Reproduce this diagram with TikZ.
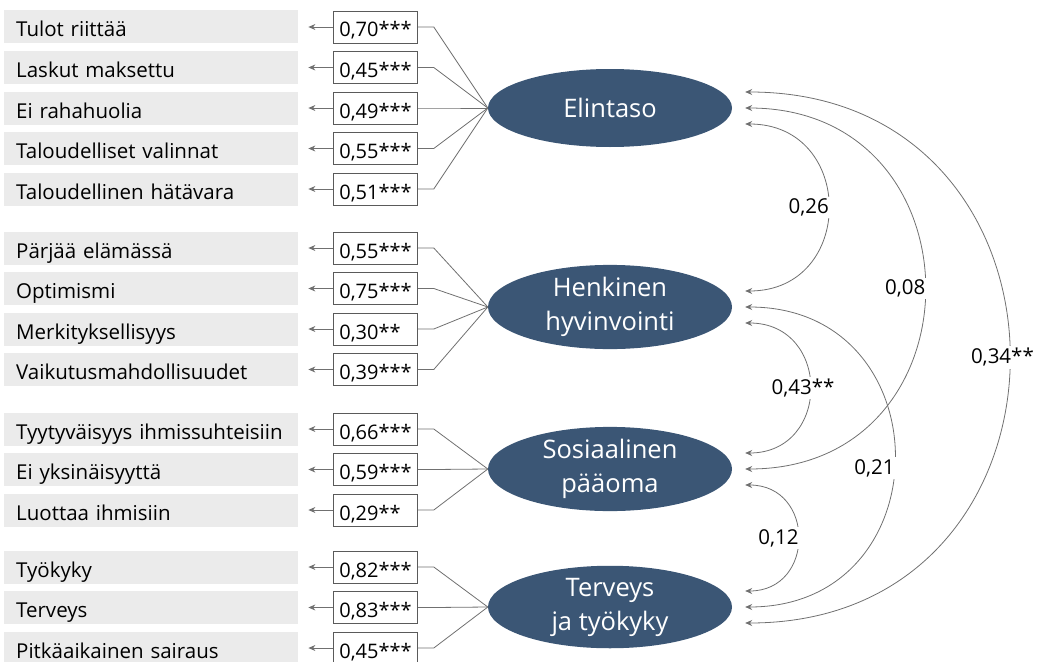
\documentclass[tikz,border=0pt]{standalone}
\usepackage{fontspec}
\setmainfont{Open Sans}
\usetikzlibrary{shapes.geometric,arrows.meta}
\definecolor{factorblue}{HTML}{3B5675}
\definecolor{itemgrey}{HTML}{EBEBEB}
\definecolor{boxgrey}{HTML}{5A5A5A}
\definecolor{linegrey}{HTML}{707070}
\begin{document}
\begin{tikzpicture}
[x=1pt,y=-1pt,
item text/.style={anchor=west,fill=itemgrey,text width=270pt,inner xsep=12pt,inner ysep=0pt,
  minimum height=33pt,text height=23pt,text depth=3pt,align=left,font=\fontsize{20.5}{24}\selectfont},
loading box/.style={anchor=west,draw=boxgrey,line width=0.8pt,fill=white,text width=72pt,
  inner xsep=6pt,inner ysep=0pt,minimum height=32pt,text height=23pt,text depth=3pt,
  align=left,font=\fontsize{20}{22}\selectfont},
factor/.style={ellipse,fill=factorblue,text=white,minimum width=244pt,minimum height=78pt,
  inner sep=0pt,align=center,font=\fontsize{25.5}{34}\selectfont},
loading line/.style={draw=linegrey,line width=0.8pt},
item arrow/.style={draw=linegrey,line width=0.8pt,-{Stealth[length=7pt,width=6pt]},shorten >=10pt},
correlation/.style={draw=linegrey,line width=0.8pt,
  {Stealth[length=7pt,width=6pt]}-{Stealth[length=7pt,width=6pt]},out=0,in=0,looseness=1.7},
corr text/.style={fill=white,inner sep=2pt,anchor=east,xshift=3pt,font=\fontsize{20.5}{22}\selectfont},
starred/.style={xshift=24pt}]
\useasboundingbox (0,0) rectangle (1043,661);

\node[factor] (elintaso) at (610,108) {Elintaso};
\node[factor] (henkinen) at (610,307) {Henkinen\\hyvinvointi};
\node[factor] (sosiaalinen) at (610,469) {Sosiaalinen\\pääoma};
\node[factor] (terveys) at (610,607) {Terveys\\ja työkyky};

\node[item text] (tulot) at (4,27) {Tulot riittää};
\node[item text] (laskut) at (4,67.5) {Laskut maksettu};
\node[item text] (rahahuolia) at (4,108) {Ei rahahuolia};
\node[item text] (valinnat) at (4,148.5) {Taloudelliset valinnat};
\node[item text] (hatavara) at (4,189) {Taloudellinen hätävara};
\node[item text] (parjaa) at (4,248) {Pärjää elämässä};
\node[item text] (optimismi) at (4,288.5) {Optimismi};
\node[item text] (merkitys) at (4,329) {Merkityksellisyys};
\node[item text] (vaikutus) at (4,369.5) {Vaikutusmahdollisuudet};
\node[item text] (tyytyvaisyys) at (4,429) {Tyytyväisyys ihmissuhteisiin};
\node[item text] (yksinaisyys) at (4,469.5) {Ei yksinäisyyttä};
\node[item text] (luottaa) at (4,510) {Luottaa ihmisiin};
\node[item text] (tyokyky) at (4,567) {Työkyky};
\node[item text] (terveysitem) at (4,607.5) {Terveys};
\node[item text] (sairaus) at (4,648) {Pitkäaikainen sairaus};

\node[loading box] (l-tulot) at (333,27) {0,70***};
\node[loading box] (l-laskut) at (333,67.5) {0,45***};
\node[loading box] (l-rahahuolia) at (333,108) {0,49***};
\node[loading box] (l-valinnat) at (333,148.5) {0,55***};
\node[loading box] (l-hatavara) at (333,189) {0,51***};
\node[loading box] (l-parjaa) at (333,248) {0,55***};
\node[loading box] (l-optimismi) at (333,288.5) {0,75***};
\node[loading box] (l-merkitys) at (333,329) {0,30**};
\node[loading box] (l-vaikutus) at (333,369.5) {0,39***};
\node[loading box] (l-tyytyvaisyys) at (333,429) {0,66***};
\node[loading box] (l-yksinaisyys) at (333,469.5) {0,59***};
\node[loading box] (l-luottaa) at (333,510) {0,29**};
\node[loading box] (l-tyokyky) at (333,567) {0,82***};
\node[loading box] (l-terveysitem) at (333,607.5) {0,83***};
\node[loading box] (l-sairaus) at (333,648) {0,45***};

\foreach \item/\factor in {tulot/elintaso,laskut/elintaso,rahahuolia/elintaso,valinnat/elintaso,
  hatavara/elintaso,parjaa/henkinen,optimismi/henkinen,merkitys/henkinen,vaikutus/henkinen,
  tyytyvaisyys/sosiaalinen,yksinaisyys/sosiaalinen,luottaa/sosiaalinen,
  tyokyky/terveys,terveysitem/terveys,sairaus/terveys}
{
\draw[item arrow] (l-\item.west) -- (\item);
\draw[loading line] (l-\item.east) -- ++(16,0) -- (\factor.west);
}

\foreach \factor in {elintaso,henkinen,sosiaalinen,terveys}
{
\coordinate (\factor-t) at ([shift={(13,-16)}]\factor.east);
\coordinate (\factor-m) at ([shift={(13,0)}]\factor.east);
\coordinate (\factor-b) at ([shift={(13,16)}]\factor.east);
}

\draw[correlation] (elintaso-b) to node[corr text] {0,26} (henkinen-t);
\draw[correlation] (elintaso-m) to node[corr text] {0,08} (sosiaalinen-m);
\draw[correlation] (elintaso-t) to node[corr text,starred] {0,34**} (terveys-b);
\draw[correlation] (henkinen-b) to node[corr text,starred] {0,43**} (sosiaalinen-t);
\draw[correlation] (henkinen-m) to node[corr text,pos=0.525] {0,21} (terveys-m);
\draw[correlation] (sosiaalinen-b) to node[corr text] {0,12} (terveys-t);
\end{tikzpicture}
\end{document}
